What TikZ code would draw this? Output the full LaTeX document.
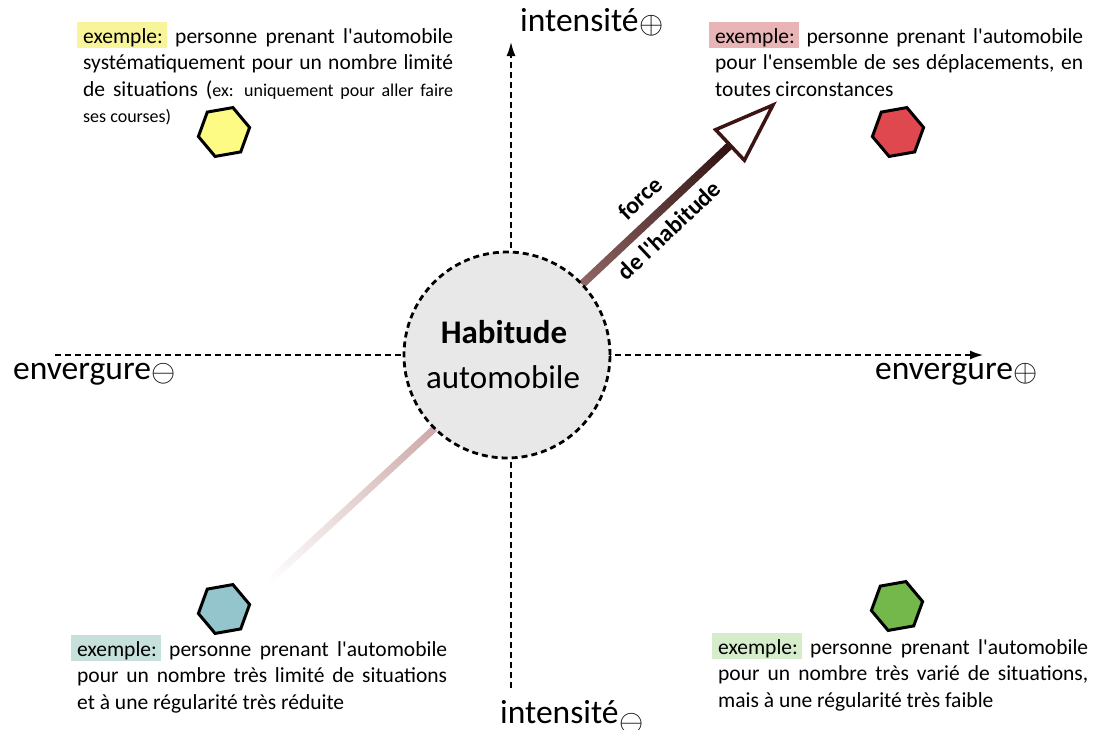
\documentclass[tikz,border=0pt]{standalone}
\usepackage{graphicx}
\usepackage{fontspec}
\setmainfont{Carlito}[Ligatures=TeXOff]
\usetikzlibrary{arrows.meta,shapes.geometric,calc}
\definecolor{hly}{HTML}{F8F49A}
\definecolor{hlr}{HTML}{E8B4B6}
\definecolor{hlb}{HTML}{C6E1DB}
\definecolor{hlg}{HTML}{D6EDCC}
\definecolor{hexy}{HTML}{FDFB84}
\definecolor{hexr}{HTML}{E0484F}
\definecolor{hexb}{HTML}{94C4CC}
\definecolor{hexg}{HTML}{74B84C}
\definecolor{circfill}{HTML}{E8E8E8}
\definecolor{shaftA}{HTML}{9C7070}
\definecolor{shaftB}{HTML}{2E1010}
\definecolor{headc}{HTML}{3D1414}
\definecolor{fadeA}{HTML}{C8A2A2}
\newcommand\exhl[1]{{\setlength\fboxsep{0pt}\hspace*{-6pt}\colorbox{#1}{\rule[-5pt]{0pt}{26pt}\hspace{6pt}exemple:\hspace{4pt}}}}
\newcommand\jl[1]{\makebox[370pt][s]{#1}}
\newcommand\csym[2]{\hspace{1pt}\raisebox{#1}{\scalebox{1.25}{$#2$}}}
\begin{document}
\begin{tikzpicture}[x=1pt,y=-1pt,
  axis/.style={line width=1.5pt, dash pattern=on 6pt off 4pt},
  hexa/.style={regular polygon, regular polygon sides=6, minimum size=52pt, inner sep=0pt, draw=black, line width=3pt, rotate=10},
  extext/.style={anchor=base west, inner sep=0pt, align=left, font=\fontsize{21.5}{26.5}\selectfont},
  axlabel/.style={anchor=base west, inner sep=0pt, font=\fontsize{33.5}{40}\selectfont},
  forcelab/.style={rotate=43.2, inner sep=0pt, font=\bfseries\fontsize{24}{28}\selectfont}]
\useasboundingbox (0,0) rectangle (1096,729);
% axes
\coordinate (vb) at (511,688);
\coordinate (vt) at (511,42);
\coordinate (hl) at (55,355);
\coordinate (hr) at (983,355);
\draw[axis,-{Latex[length=14pt,width=9pt]}] (vb) -- (vt);
\draw[axis,-{Latex[length=13pt,width=9pt]}] (hl) -- (hr);
% fading line lower left
\coordinate (ls) at (435,428);
\coordinate (le) at (268,582);
\begin{scope}[transform canvas={shift={(ls)}, rotate=222.7}]
  \shade[left color=fadeA, right color=white] (-20,-3.5) rectangle (227,3.5);
\end{scope}
% force shaft
\coordinate (fs) at (578,288);
\coordinate (fb) at (730,145);
\coordinate (ft) at (773,105);
\coordinate (fc1) at (744.4,160.3);
\coordinate (fc2) at (715.6,129.7);
\begin{scope}[transform canvas={shift={(fs)}, rotate=43.2}]
  \shade[left color=shaftA, right color=shaftB] (-20,-4) rectangle (212,4);
\end{scope}
\draw[headc, fill=white, line width=3.5pt, line join=miter] (ft) -- (fc1) -- (fc2) -- cycle;
% circle
\node[circle, minimum size=206pt, inner sep=0pt, fill=circfill, draw=black, line width=2.8pt, dash pattern=on 6pt off 4pt] (hab) at (507,355) {};
\node[anchor=base, inner sep=0pt, font=\bfseries\fontsize{33}{40}\selectfont] (habt) at (504,343) {Habitude};
\node[anchor=base, inner sep=0pt, font=\fontsize{33}{40}\selectfont] (auto) at (503,388) {automobile};
% force labels
\node[forcelab] (force) at (640,198) {force};
\node[forcelab] (dlh) at (669,230) {de l'habitude};
% axis labels
\node[axlabel] (ip) at (520,31) {intensité\csym{-2pt}{\oplus}};
\node[axlabel] (im) at (500,723) {intensité\csym{-8pt}{\ominus}};
\node[axlabel] (em) at (13,379) {envergure\csym{-2pt}{\ominus}};
\node[axlabel] (ep) at (875,379) {envergure\csym{-2pt}{\oplus}};
% hexagons
\node[hexa, fill=hexy] (hy) at (224,132) {};
\node[hexa, fill=hexr] (hr) at (898,132) {};
\node[hexa, fill=hexb] (hb) at (224,609) {};
\node[hexa, fill=hexg] (hg) at (897,606) {};
% texts (anchor = baseline of last line)
\node[extext] (tl) at (83,122.5) {\jl{\exhl{hly} personne prenant l'automobile}\\
\jl{systématiquement pour un nombre limité}\\
\jl{de situations ({\fontsize{18}{26.5}\selectfont ex: uniquement pour aller faire}}\\
{\fontsize{18}{26.5}\selectfont ses courses)}};
\node[extext] (tr) at (715,96) {\makebox[368pt][s]{\exhl{hlr} personne prenant l'automobile}\\
\makebox[368pt][s]{pour l'ensemble de ses déplacements, en}\\
toutes circonstances};
\node[extext] (bl) at (77,709) {\jl{\exhl{hlb} personne prenant l'automobile}\\
\jl{pour un nombre très limité de situations}\\
et à une régularité très réduite};
\node[extext] (br) at (718,707) {\jl{\exhl{hlg} personne prenant l'automobile}\\
\jl{pour un nombre très varié de situations,}\\
mais à une régularité très faible};
\end{tikzpicture}
\end{document}
